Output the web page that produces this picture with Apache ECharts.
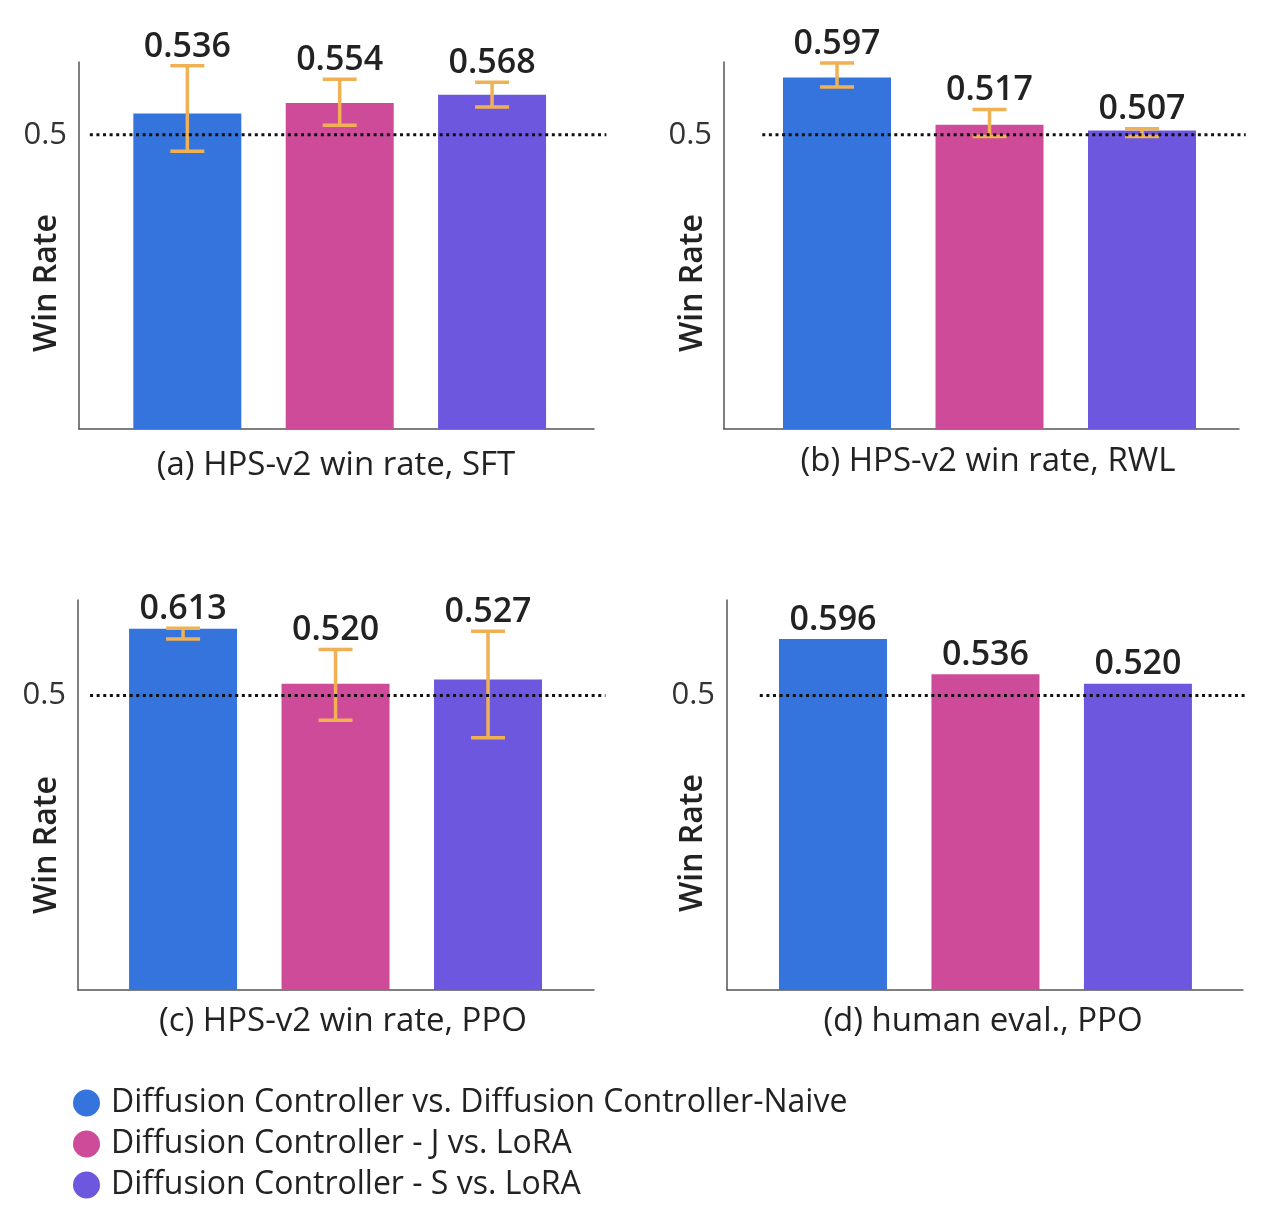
<!DOCTYPE html>
<html>
<head>
<meta charset="utf-8">
<script src="https://cdn.jsdelivr.net/npm/echarts@6/dist/echarts.min.js"></script>
<style>
  html, body { margin: 0; padding: 0; background: #fff; }
  #chart { width: 1274px; height: 1218px; }
</style>
</head>
<body>
<div id="chart"></div>
<script>
var comparisons = [
  'Diffusion Controller vs. Diffusion Controller-Naive',
  'Diffusion Controller - J vs. LoRA',
  'Diffusion Controller - S vs. LoRA'
];
var barColors = ['#3574DC', '#CD4B98', '#6E57DF'];
var panelTitles = [
  '(a) HPS-v2 win rate, SFT',
  '(b) HPS-v2 win rate, RWL',
  '(c) HPS-v2 win rate, PPO',
  '(d) human eval., PPO'
];
var yTicks = [0.5];

// win rates and error bar ends
var sftWin = [0.536, 0.554, 0.568];
var sftLow = [0.472, 0.516, 0.547];
var sftHigh = [0.617, 0.594, 0.589];

var rwlWin = [0.597, 0.517, 0.507];
var rwlLow = [0.581, 0.497, 0.497];
var rwlHigh = [0.622, 0.543, 0.510];

var ppoWin = [0.613, 0.520, 0.527];
var ppoLow = [0.596, 0.458, 0.428];
var ppoHigh = [0.614, 0.578, 0.609];

var humanWin = [0.596, 0.536, 0.520];

var FONT = '"Open Sans", Roboto, sans-serif';
var TEXT = '#222';
var AXIS = '#555';
var ERR = '#F0B155';

// layout of the four panels
var panels = [
  { win: sftWin, low: sftLow, high: sftHigh,
    grid: { left: 79, top: 62, width: 515, height: 367 },
    xMin: -0.711, xMax: 2.669, yMax: 0.6235, ref: [-0.64, 2.75],
    title: [336, 466], yName: [47, 283] },
  { win: rwlWin, low: rwlLow, high: rwlHigh,
    grid: { left: 724, top: 62, width: 515, height: 367 },
    xMin: -0.741, xMax: 2.636, yMax: 0.6235, ref: [-0.49, 2.68],
    title: [988, 462], yName: [693, 283] },
  { win: ppoWin, low: ppoLow, high: ppoHigh,
    grid: { left: 78, top: 600, width: 516, height: 390 },
    xMin: -0.689, xMax: 2.695, yMax: 0.662, ref: [-0.61, 2.77],
    title: [343, 1022], yName: [47, 845] },
  { win: humanWin, low: null, high: null,
    grid: { left: 727, top: 600, width: 516, height: 390 },
    xMin: -0.695, xMax: 2.689, yMax: 0.662, ref: [-0.48, 2.70],
    title: [983, 1022], yName: [693, 843] }
];

function errorBarItem(params, api) {
  var x = api.value(0);
  var win = api.value(1);
  var low = api.value(2);
  var high = api.value(3);
  var children = [];
  var labelTop = api.coord([x, win])[1];
  if (isFinite(low) && isFinite(high)) {
    var pLow = api.coord([x, low]);
    var pHigh = api.coord([x, high]);
    var cap = 17;
    var st = { stroke: ERR, lineWidth: 3.5 };
    children.push(
      { type: 'line', shape: { x1: pLow[0], y1: pLow[1], x2: pHigh[0], y2: pHigh[1] }, style: st },
      { type: 'line', shape: { x1: pLow[0] - cap, y1: pLow[1], x2: pLow[0] + cap, y2: pLow[1] }, style: st },
      { type: 'line', shape: { x1: pHigh[0] - cap, y1: pHigh[1], x2: pHigh[0] + cap, y2: pHigh[1] }, style: st }
    );
    labelTop = Math.min(labelTop, pHigh[1]);
  }
  var px = api.coord([x, win])[0];
  children.push({
    type: 'text',
    style: {
      text: win.toFixed(3), x: px, y: labelTop - 2,
      align: 'center', verticalAlign: 'bottom',
      fontFamily: FONT, fontSize: 34, fontWeight: 600, fill: TEXT
    }
  });
  return { type: 'group', children: children };
}

function refLineItem(params, api) {
  var a = api.coord([api.value(0), api.value(2)]);
  var b = api.coord([api.value(1), api.value(2)]);
  return {
    type: 'line',
    shape: { x1: a[0], y1: a[1], x2: b[0], y2: b[1] },
    style: { stroke: '#111', lineWidth: 3, lineDash: [3, 3.6] }
  };
}

var option = {
  animation: false,
  grid: [], xAxis: [], yAxis: [], series: [], graphic: []
};

panels.forEach(function (p, k) {
  option.grid.push(Object.assign({ outerBoundsMode: 'none' }, p.grid));
  option.xAxis.push({
    type: 'value', gridIndex: k, min: p.xMin, max: p.xMax,
    axisLine: { show: true, onZero: false, lineStyle: { color: AXIS, width: 1.5 } },
    axisTick: { show: false }, axisLabel: { show: false }, splitLine: { show: false }
  });
  option.yAxis.push({
    type: 'value', gridIndex: k, min: 0, max: p.yMax, interval: 0.5,
    axisLine: { show: true, onZero: false, lineStyle: { color: AXIS, width: 1.5 } },
    axisTick: { show: false }, splitLine: { show: false },
    axisLabel: {
      margin: 12, fontFamily: FONT, fontSize: 31, color: '#333',
      formatter: function (v) { return yTicks.indexOf(v) >= 0 ? String(v) : ''; }
    }
  });
  comparisons.forEach(function (name, i) {
    option.series.push({
      type: 'bar', name: name, xAxisIndex: k, yAxisIndex: k,
      barWidth: 108, barGap: '-100%',
      itemStyle: { color: barColors[i] },
      data: [[i, p.win[i]]]
    });
  });
  option.series.push({
    type: 'custom', xAxisIndex: k, yAxisIndex: k, clip: false, silent: true,
    renderItem: errorBarItem,
    encode: { x: 0, y: [1, 2, 3] },
    z: 5,
    data: p.win.map(function (v, i) {
      return [i, v, p.low ? p.low[i] : '-', p.high ? p.high[i] : '-'];
    })
  });
  // dotted 0.5 reference line
  option.series.push({
    type: 'custom', xAxisIndex: k, yAxisIndex: k, clip: false, silent: true,
    renderItem: refLineItem,
    encode: { x: [0, 1], y: 2 },
    z: 6,
    data: [[p.ref[0], p.ref[1], yTicks[0]]]
  });
  option.graphic.push({
    type: 'text', x: p.title[0], y: p.title[1],
    style: { text: panelTitles[k], align: 'center', verticalAlign: 'middle',
      fontFamily: FONT, fontSize: 33, fill: TEXT }
  });
  option.graphic.push({
    type: 'text', x: p.yName[0], y: p.yName[1], rotation: Math.PI / 2,
    style: { text: 'Win Rate', align: 'center', verticalAlign: 'middle',
      fontFamily: FONT, fontSize: 32, fontWeight: 600, fill: TEXT }
  });
});

option.legend = {
  data: comparisons, orient: 'vertical', left: 68, top: 1082,
  icon: 'circle', itemWidth: 27, itemHeight: 27, itemGap: 9,
  textStyle: { fontFamily: FONT, fontSize: 32, lineHeight: 32, color: TEXT, padding: [0, 0, 0, 6] }
};

var myChart = echarts.init(document.getElementById('chart'), null, { renderer: 'canvas' });
myChart.setOption(option);
window.addEventListener('resize', myChart.resize);
</script>
</body>
</html>
